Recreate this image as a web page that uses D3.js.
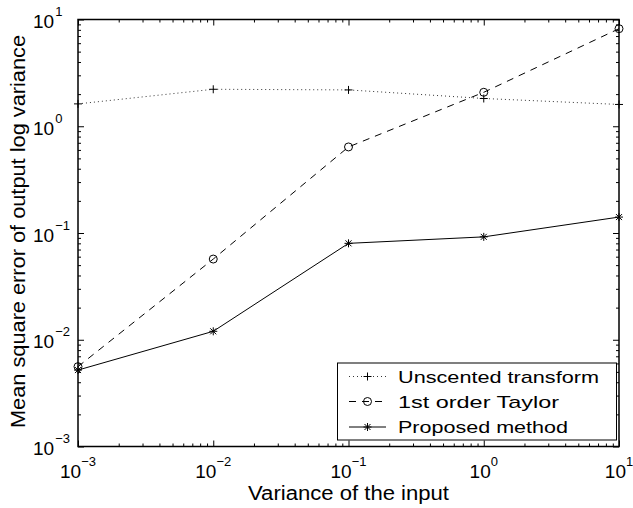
<!DOCTYPE html>
<html>
<head>
<meta charset="utf-8">
<script src="https://cdn.jsdelivr.net/npm/d3@7"></script>
<style>
body { margin: 0; background: #fff; }
svg { font-family: "Liberation Sans", Arial, sans-serif; }
</style>
</head>
<body>
<svg width="633" height="508"></svg>
<script>
// data
var inputVariance = [1e-3, 1e-2, 1e-1, 1, 10]
var unscented = [1.62, 2.22, 2.19, 1.82, 1.6]
var taylor    = [0.0056, 0.057, 0.64, 2.08, 8.2]
var proposed  = [0.0052, 0.012, 0.080, 0.092, 0.141]
var decadeExps = [-3, -2, -1, 0, 1]
var seriesNames = ["Unscented transform", "1st order Taylor", "Proposed method"]

var svg = d3.select("svg")
var padL = 78, padR = 619, padT = 19.5, padB = 446.5

var x = d3.scaleLog().domain([1e-3, 10]).range([padL, padR])
var y = d3.scaleLog().domain([1e-3, 10]).range([padB, padT])

var major = decadeExps.map(function(e) { return Math.pow(10, e) })
var minor = []
for (var i = 0; i < major.length - 1; i++) {
    for (var k = 2; k <= 9; k++) minor.push(k * major[i])
}

// ticks on all four sides, pointing inwards
function ticks(axisFn, scale, vals, len, tx, ty) {
    var g = svg.append("g").attr("transform", "translate(" + tx + "," + ty + ")")
        .call(axisFn(scale).tickValues(vals).tickSizeInner(len).tickSizeOuter(0).tickFormat(""))
    g.select(".domain").remove()
    g.selectAll("line").attr("stroke", "#000").attr("stroke-width", 1)
    return g
}
ticks(d3.axisBottom, x, major, -6, 0, padB)
ticks(d3.axisBottom, x, minor, -3, 0, padB)
ticks(d3.axisTop, x, major, -6, 0, padT)
ticks(d3.axisTop, x, minor, -3, 0, padT)
ticks(d3.axisLeft, y, major, -6, padL, 0)
ticks(d3.axisLeft, y, minor, -3, padL, 0)
ticks(d3.axisRight, y, major, -6, padR, 0)
ticks(d3.axisRight, y, minor, -3, padR, 0)

svg.append("rect")
    .attr("x", padL).attr("y", padT)
    .attr("width", padR - padL).attr("height", padB - padT)
    .attr("fill", "none").attr("stroke", "#000").attr("stroke-width", 1.5)

function expStr(e) { return e < 0 ? "\u2212" + (-e) : "" + e }

// x tick labels
decadeExps.forEach(function(e) {
    var t = svg.append("text")
        .attr("x", x(Math.pow(10, e))).attr("y", 477.5)
        .attr("text-anchor", "middle").attr("font-size", 19)
    t.append("tspan").text("10")
    t.append("tspan").attr("dy", -12).attr("font-size", 13).text(expStr(e))
})
// y tick labels
decadeExps.forEach(function(e) {
    var t = svg.append("text")
        .attr("x", 33).attr("y", y(Math.pow(10, e)) + 8.5)
        .attr("font-size", 19)
    t.append("tspan").text("10")
    t.append("tspan").attr("dx", 1).attr("dy", -12).attr("font-size", 13).text(expStr(e))
})

svg.append("text").attr("x", 248).attr("y", 500)
    .attr("font-size", 20)
    .attr("textLength", 201).attr("lengthAdjust", "spacingAndGlyphs")
    .text("Variance of the input")
svg.append("text")
    .attr("transform", "translate(25,428) rotate(-90)")
    .attr("font-size", 21)
    .attr("textLength", 393).attr("lengthAdjust", "spacingAndGlyphs")
    .text("Mean square error of output log variance")

// markers
function plus(g, cx, cy) {
    g.append("path").attr("d", "M" + (cx - 4) + "," + cy + "h8M" + cx + "," + (cy - 4) + "v8")
        .attr("stroke", "#000").attr("stroke-width", 1).attr("fill", "none")
}
function circ(g, cx, cy) {
    g.append("circle").attr("cx", cx).attr("cy", cy).attr("r", 4)
        .attr("stroke", "#000").attr("stroke-width", 1).attr("fill", "none")
}
function star(g, cx, cy) {
    g.append("path").attr("d",
        "M" + (cx - 4) + "," + cy + "h8M" + cx + "," + (cy - 4) + "v8" +
        "M" + (cx - 3) + "," + (cy - 3) + "l6,6M" + (cx - 3) + "," + (cy + 3) + "l6,-6")
        .attr("stroke", "#000").attr("stroke-width", 1).attr("fill", "none")
}

var styles = [
    { vals: unscented, dash: "1,3", width: 0.8, mark: plus, len: 201 },
    { vals: taylor, dash: "7,6", width: 1, mark: circ, len: 161 },
    { vals: proposed, dash: null, width: 1, mark: star, len: 170 }
]

var line = d3.line()
    .x(function(d, i) { return x(inputVariance[i]) })
    .y(function(d) { return y(d) })

styles.forEach(function(s) {
    svg.append("path").datum(s.vals).attr("d", line)
        .attr("fill", "none").attr("stroke", "#000")
        .attr("stroke-width", s.width)
        .attr("stroke-dasharray", s.dash)
    var g = svg.append("g")
    s.vals.forEach(function(v, i) { s.mark(g, x(inputVariance[i]), y(v)) })
})

// legend
var lg = svg.append("g")
lg.append("rect").attr("x", 337.5).attr("y", 363).attr("width", 279).attr("height", 77)
    .attr("fill", "#fff").attr("stroke", "#000").attr("stroke-width", 1)
var rowY = [376.5, 401.5, 427]
styles.forEach(function(s, i) {
    lg.append("line").attr("x1", 349).attr("x2", 386).attr("y1", rowY[i]).attr("y2", rowY[i])
        .attr("stroke", "#000").attr("stroke-width", s.width)
        .attr("stroke-dasharray", s.dash)
    s.mark(lg, 367.5, rowY[i])
    lg.append("text").attr("x", 398).attr("y", rowY[i] + 6)
        .attr("font-size", 17)
        .attr("textLength", s.len).attr("lengthAdjust", "spacingAndGlyphs")
        .text(seriesNames[i])
})
</script>
</body>
</html>
